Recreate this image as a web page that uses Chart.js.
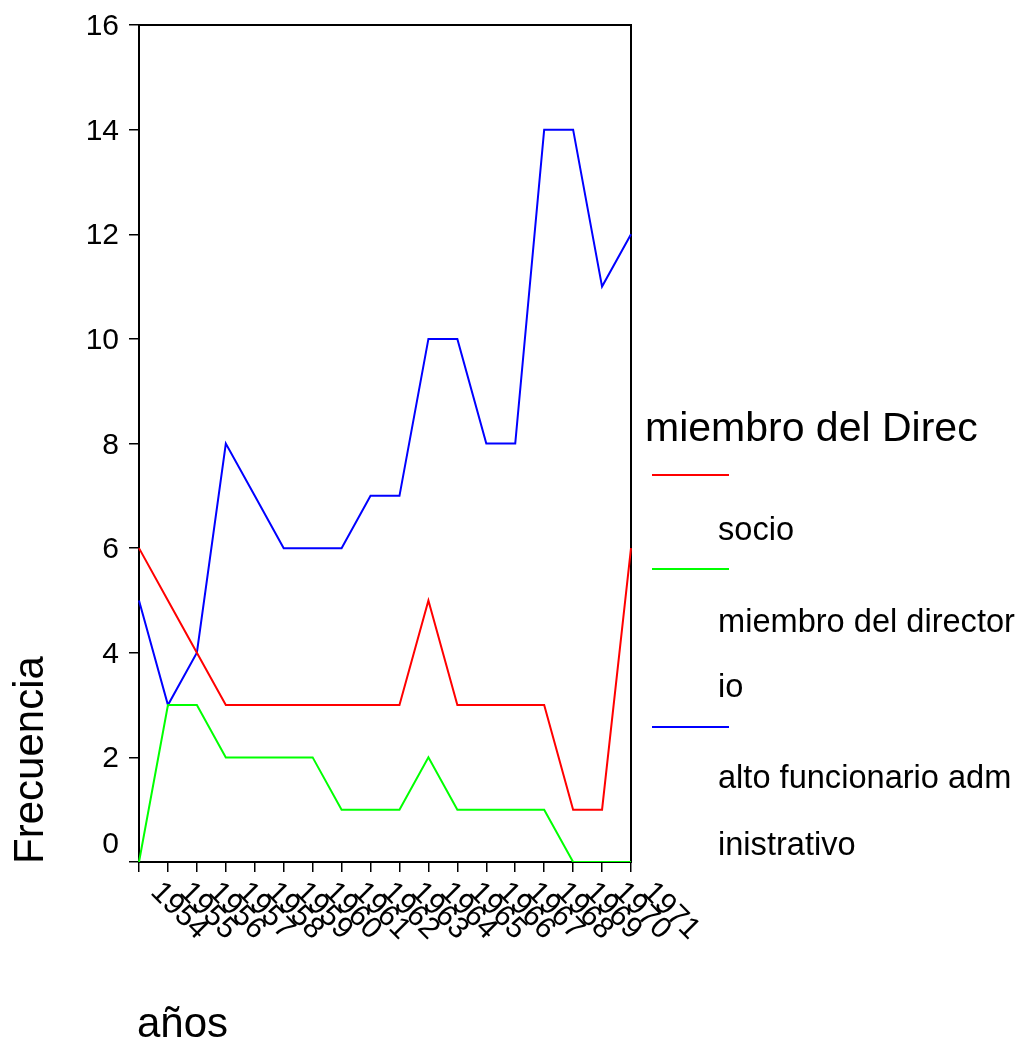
<!DOCTYPE html>
<html>
<head>
<meta charset="utf-8">
<script src="https://cdn.jsdelivr.net/npm/chart.js@4.4.0/dist/chart.umd.min.js"></script>
<style>
  html,body{margin:0;padding:0;background:#fff;}
  #wrap{width:1018px;height:1043px;position:relative;}
</style>
</head>
<body>
<div id="wrap"><canvas id="chart"></canvas></div>
<script>
// data
const years = ["1954","1955","1956","1957","1958","1959","1960","1961","1962","1963","1964","1965","1966","1967","1968","1969","1970","1971"];
const socio      = [6,5,4,3,3,3,3,3,3,3,5,3,3,3,3,1,1,6];
const directorio = [0,3,3,2,2,2,2,1,1,1,2,1,1,1,1,0,0,0];
const altoFunc   = [5,3,4,8,7,6,6,6,7,7,10,10,8,8,14,14,11,12];
const yTicks = [0,2,4,6,8,10,12,14,16];

const legendTitle = "miembro del Direc";
const legendLines = [["socio"],["miembro del director","io"],["alto funcionario adm","inistrativo"]];
const yTitle = "Frecuencia";
const xTitle = "años";

const FONT = "'Liberation Sans', Arial, sans-serif";

// frame, tick labels, titles and legend drawn around the chart area
const decor = {
  id:"decor",
  beforeDatasetsDraw(chart){
    const {ctx,chartArea:a} = chart;
    ctx.save();
    ctx.strokeStyle="#000";
    ctx.lineWidth=2;
    ctx.strokeRect(a.left,a.top,a.right-a.left,a.bottom-a.top);
    ctx.restore();
  },
  afterDraw(chart){
    const {ctx,chartArea:a} = chart;
    const xs = chart.scales.x, ys = chart.scales.y;
    ctx.save();
    ctx.fillStyle="#000";

    // y tick labels
    ctx.font="30px "+FONT;
    ctx.textAlign="right";
    ctx.textBaseline="alphabetic";
    yTicks.forEach(v=>{
      const y = ys.getPixelForValue(v);
      ctx.fillText(String(v), a.left-20, v===0 ? y-9 : y+10);
    });

    // x tick labels, slanted down to the right
    ctx.textAlign="center";
    ctx.textBaseline="middle";
    years.forEach((lab,i)=>{
      const x = xs.getPixelForValue(i);
      ctx.save();
      ctx.translate(x+40, a.bottom+49);
      ctx.rotate(Math.PI/4);
      ctx.fillText(lab,0,0);
      ctx.restore();
    });

    // axis titles
    ctx.font="42px "+FONT;
    ctx.textBaseline="alphabetic";
    ctx.save();
    ctx.translate(43,760);
    ctx.rotate(-Math.PI/2);
    ctx.textAlign="center";
    ctx.fillText(yTitle,0,0);
    ctx.restore();
    ctx.textAlign="left";
    ctx.fillText(xTitle,137,1037);

    // legend
    const lx = a.right+14;
    ctx.font="41px "+FONT;
    ctx.fillText(legendTitle,lx,441);
    ctx.font="32.6px "+FONT;
    const sampleY=[475,569,727];
    const textY=[[540],[632,697],[788,855]];
    chart.data.datasets.forEach((ds,i)=>{
      ctx.strokeStyle=ds.borderColor;
      ctx.lineWidth=2;
      ctx.beginPath();
      ctx.moveTo(a.right+21,sampleY[i]);
      ctx.lineTo(a.right+98,sampleY[i]);
      ctx.stroke();
      legendLines[i].forEach((t,j)=>ctx.fillText(t,a.right+87,textY[i][j]));
    });
    ctx.restore();
  }
};

new Chart(document.getElementById("chart"),{
  type:"line",
  data:{
    labels:years,
    datasets:[
      {label:"socio",data:socio,borderColor:"#ff0000",borderWidth:2,pointRadius:0,tension:0,fill:false},
      {label:"miembro del directorio",data:directorio,borderColor:"#00ff00",borderWidth:2,pointRadius:0,tension:0,fill:false},
      {label:"alto funcionario administrativo",data:altoFunc,borderColor:"#0000ff",borderWidth:2,pointRadius:0,tension:0,fill:false}
    ]
  },
  options:{
    responsive:true,
    maintainAspectRatio:false,
    animation:false,
    layout:{padding:{left:0,top:25,right:387,bottom:0}},
    plugins:{legend:{display:false},tooltip:{enabled:false}},
    scales:{
      x:{
        offset:false,
        ticks:{display:false},
        grid:{drawOnChartArea:false,drawTicks:true,tickLength:10,color:"#000",lineWidth:1.5},
        border:{color:"#000",width:2},
        afterFit(s){ s.height=181; }
      },
      y:{
        min:0,max:16,
        ticks:{display:false,stepSize:2},
        grid:{drawOnChartArea:false,drawTicks:true,tickLength:10,color:"#000",lineWidth:1.5},
        border:{color:"#000",width:2},
        afterFit(s){ s.width=139; }
      }
    }
  },
  plugins:[decor]
});
</script>
</body>
</html>
